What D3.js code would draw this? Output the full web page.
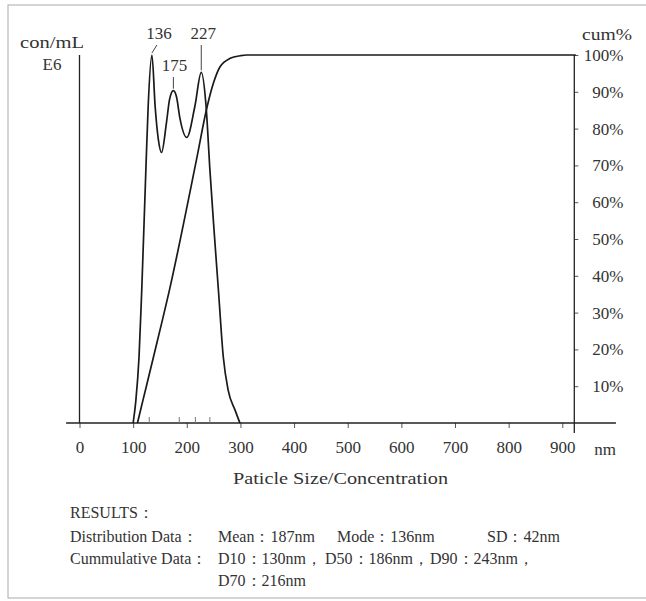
<!DOCTYPE html>
<html lang="en">
<head>
<meta charset="utf-8">
<title>Particle Size</title>
<script src="https://cdn.jsdelivr.net/npm/d3@7"></script>
<style>
  body { margin: 0; background: #fff; }
  text { font-family: "Liberation Serif", serif; fill: #333; }
</style>
</head>
<body>
<script>
var w = 646, h = 601;

// distribution curve (con/mL E6, relative to the highest peak)
var distSize = [100, 105, 111, 116, 124, 128, 135, 141, 147, 153, 162, 168, 175, 181, 187, 200, 215, 227, 236, 243, 251, 259, 268, 277, 290, 299];
var distConc = [0, 6, 18, 36, 70, 86, 100, 86, 77, 73.5, 81.5, 88, 90.3, 88.5, 83, 77.6, 86, 95.3, 86, 69, 52, 36, 18, 9, 3.5, 0];

// cumulative curve (%)
var cumSize = [108, 118, 138, 169, 218, 238, 250, 262, 281, 300, 312, 925];
var cumPct = [0, 6, 18, 37, 71.5, 86, 92.5, 96.8, 99.1, 99.8, 100, 100];

var xTicks = [0, 100, 200, 300, 400, 500, 600, 700, 800, 900];
var pctTicks = [10, 20, 30, 40, 50, 60, 70, 80, 90, 100];
var peakSize = [135, 175, 227];
var peakText = ["136", "175", "227"];
var dMarks = [130, 186, 216, 243];   // D10, D50, D70, D90

var x = d3.scaleLinear().domain([0, 900]).range([79.5, 562.3]);
var yConc = d3.scaleLinear().domain([0, 100]).range([423, 55]);
var yPct = d3.scaleLinear().domain([0, 100]).range([423, 55]);

var svg = d3.select("body").append("svg")
    .attr("width", w)
    .attr("height", h);

svg.append("rect")
    .attr("x", 8).attr("y", 5)
    .attr("width", 660).attr("height", 593)
    .attr("fill", "none")
    .attr("stroke", "#aaa");

// x axis
var xAxis = svg.append("g")
    .attr("transform", "translate(0,423)")
    .call(d3.axisBottom(x).tickValues(xTicks).tickSize(5).tickPadding(13));
xAxis.select(".domain").remove();
xAxis.selectAll("line").attr("stroke", "#555");
xAxis.selectAll("text").attr("font-size", "17px").attr("fill", "#333")
    .attr("font-family", "Liberation Serif");

svg.append("line")
    .attr("x1", x(-25)).attr("x2", x(1000))
    .attr("y1", 423).attr("y2", 423)
    .attr("stroke", "#222").attr("stroke-width", 1.4);

svg.selectAll(".dmark")
    .data(dMarks)
    .enter()
    .append("line")
    .attr("class", "dmark")
    .attr("x1", function(d) { return x(d); })
    .attr("x2", function(d) { return x(d); })
    .attr("y1", 417).attr("y2", 423)
    .attr("stroke", "#777");

svg.append("text").text("nm")
    .attr("x", 605).attr("y", 455)
    .attr("text-anchor", "middle").attr("font-size", "17px");

svg.append("text").text("Paticle Size/Concentration")
    .attr("x", 233).attr("y", 484)
    .attr("textLength", 215).attr("lengthAdjust", "spacingAndGlyphs")
    .attr("font-size", "17px");

// left axis (no ticks)
svg.append("line")
    .attr("x1", x(0)).attr("x2", x(0))
    .attr("y1", yConc(100)).attr("y2", 423)
    .attr("stroke", "#222").attr("stroke-width", 1.3);

svg.append("text").text("con/mL")
    .attr("x", 20).attr("y", 48)
    .attr("textLength", 64).attr("lengthAdjust", "spacingAndGlyphs")
    .attr("font-size", "17px");
svg.append("text").text("E6")
    .attr("x", 52).attr("y", 70)
    .attr("text-anchor", "middle").attr("font-size", "17px");

// right axis
var rAxis = svg.append("g")
    .attr("transform", "translate(574.3,0)")
    .call(d3.axisRight(yPct).tickValues(pctTicks).tickSize(4)
        .tickFormat(function(d) { return d + "%"; }));
rAxis.select(".domain").remove();
rAxis.selectAll("line").attr("stroke", "#555");
rAxis.selectAll("text")
    .attr("x", 49).attr("text-anchor", "end")
    .attr("font-size", "17px").attr("fill", "#333")
    .attr("font-family", "Liberation Serif");

svg.append("line")
    .attr("x1", 574.3).attr("x2", 574.3)
    .attr("y1", yPct(100)).attr("y2", 433)
    .attr("stroke", "#222").attr("stroke-width", 1.3);

svg.append("text").text("cum%")
    .attr("x", 582).attr("y", 40)
    .attr("textLength", 50).attr("lengthAdjust", "spacingAndGlyphs")
    .attr("font-size", "17px");

// curves
var distLine = d3.line()
    .x(function(d, i) { return x(distSize[i]); })
    .y(function(d) { return yConc(d); })
    .curve(d3.curveMonotoneX);

var cumLine = d3.line()
    .x(function(d, i) { return x(cumSize[i]); })
    .y(function(d) { return yPct(d); })
    .curve(d3.curveMonotoneX);

svg.append("path")
    .attr("d", distLine(distConc))
    .attr("fill", "none").attr("stroke", "#1a1a1a").attr("stroke-width", 1.7);

svg.append("path")
    .attr("d", cumLine(cumPct))
    .attr("fill", "none").attr("stroke", "#1a1a1a").attr("stroke-width", 1.7);

// peak labels
var labelY = [39, 71, 39];
var labelDx = [7, 1, 2];
var peakVal = peakSize.map(function(s) { return distConc[distSize.indexOf(s)]; });

svg.selectAll(".peak")
    .data(peakText)
    .enter()
    .append("text")
    .attr("class", "peak")
    .text(function(d) { return d; })
    .attr("x", function(d, i) { return x(peakSize[i]) + labelDx[i]; })
    .attr("y", function(d, i) { return labelY[i]; })
    .attr("text-anchor", "middle")
    .attr("font-size", "17px");

svg.selectAll(".lead")
    .data(peakText)
    .enter()
    .append("line")
    .attr("class", "lead")
    .attr("x1", function(d, i) { return x(peakSize[i]) + (i == 0 ? 5 : 0); })
    .attr("y1", function(d, i) { return labelY[i] + 6; })
    .attr("x2", function(d, i) { return x(peakSize[i]); })
    .attr("y2", function(d, i) { return yConc(peakVal[i]) - 2; })
    .attr("stroke", "#444");

// results
var results = svg.append("g").attr("font-size", "16px");
function put(t, px, py) {
    results.append("text").text(t).attr("x", px).attr("y", py);
}
put("RESULTS：", 70, 518);
put("Distribution Data：", 70, 542);
put("Mean：187nm", 218, 542);
put("Mode：136nm", 337, 542);
put("SD：42nm", 487, 542);
put("Cummulative Data：", 70, 564);
put("D10：130nm，", 218, 564);
put("D50：186nm，", 325, 564);
put("D90：243nm，", 430, 564);
put("D70：216nm", 218, 586);
</script>
</body>
</html>
